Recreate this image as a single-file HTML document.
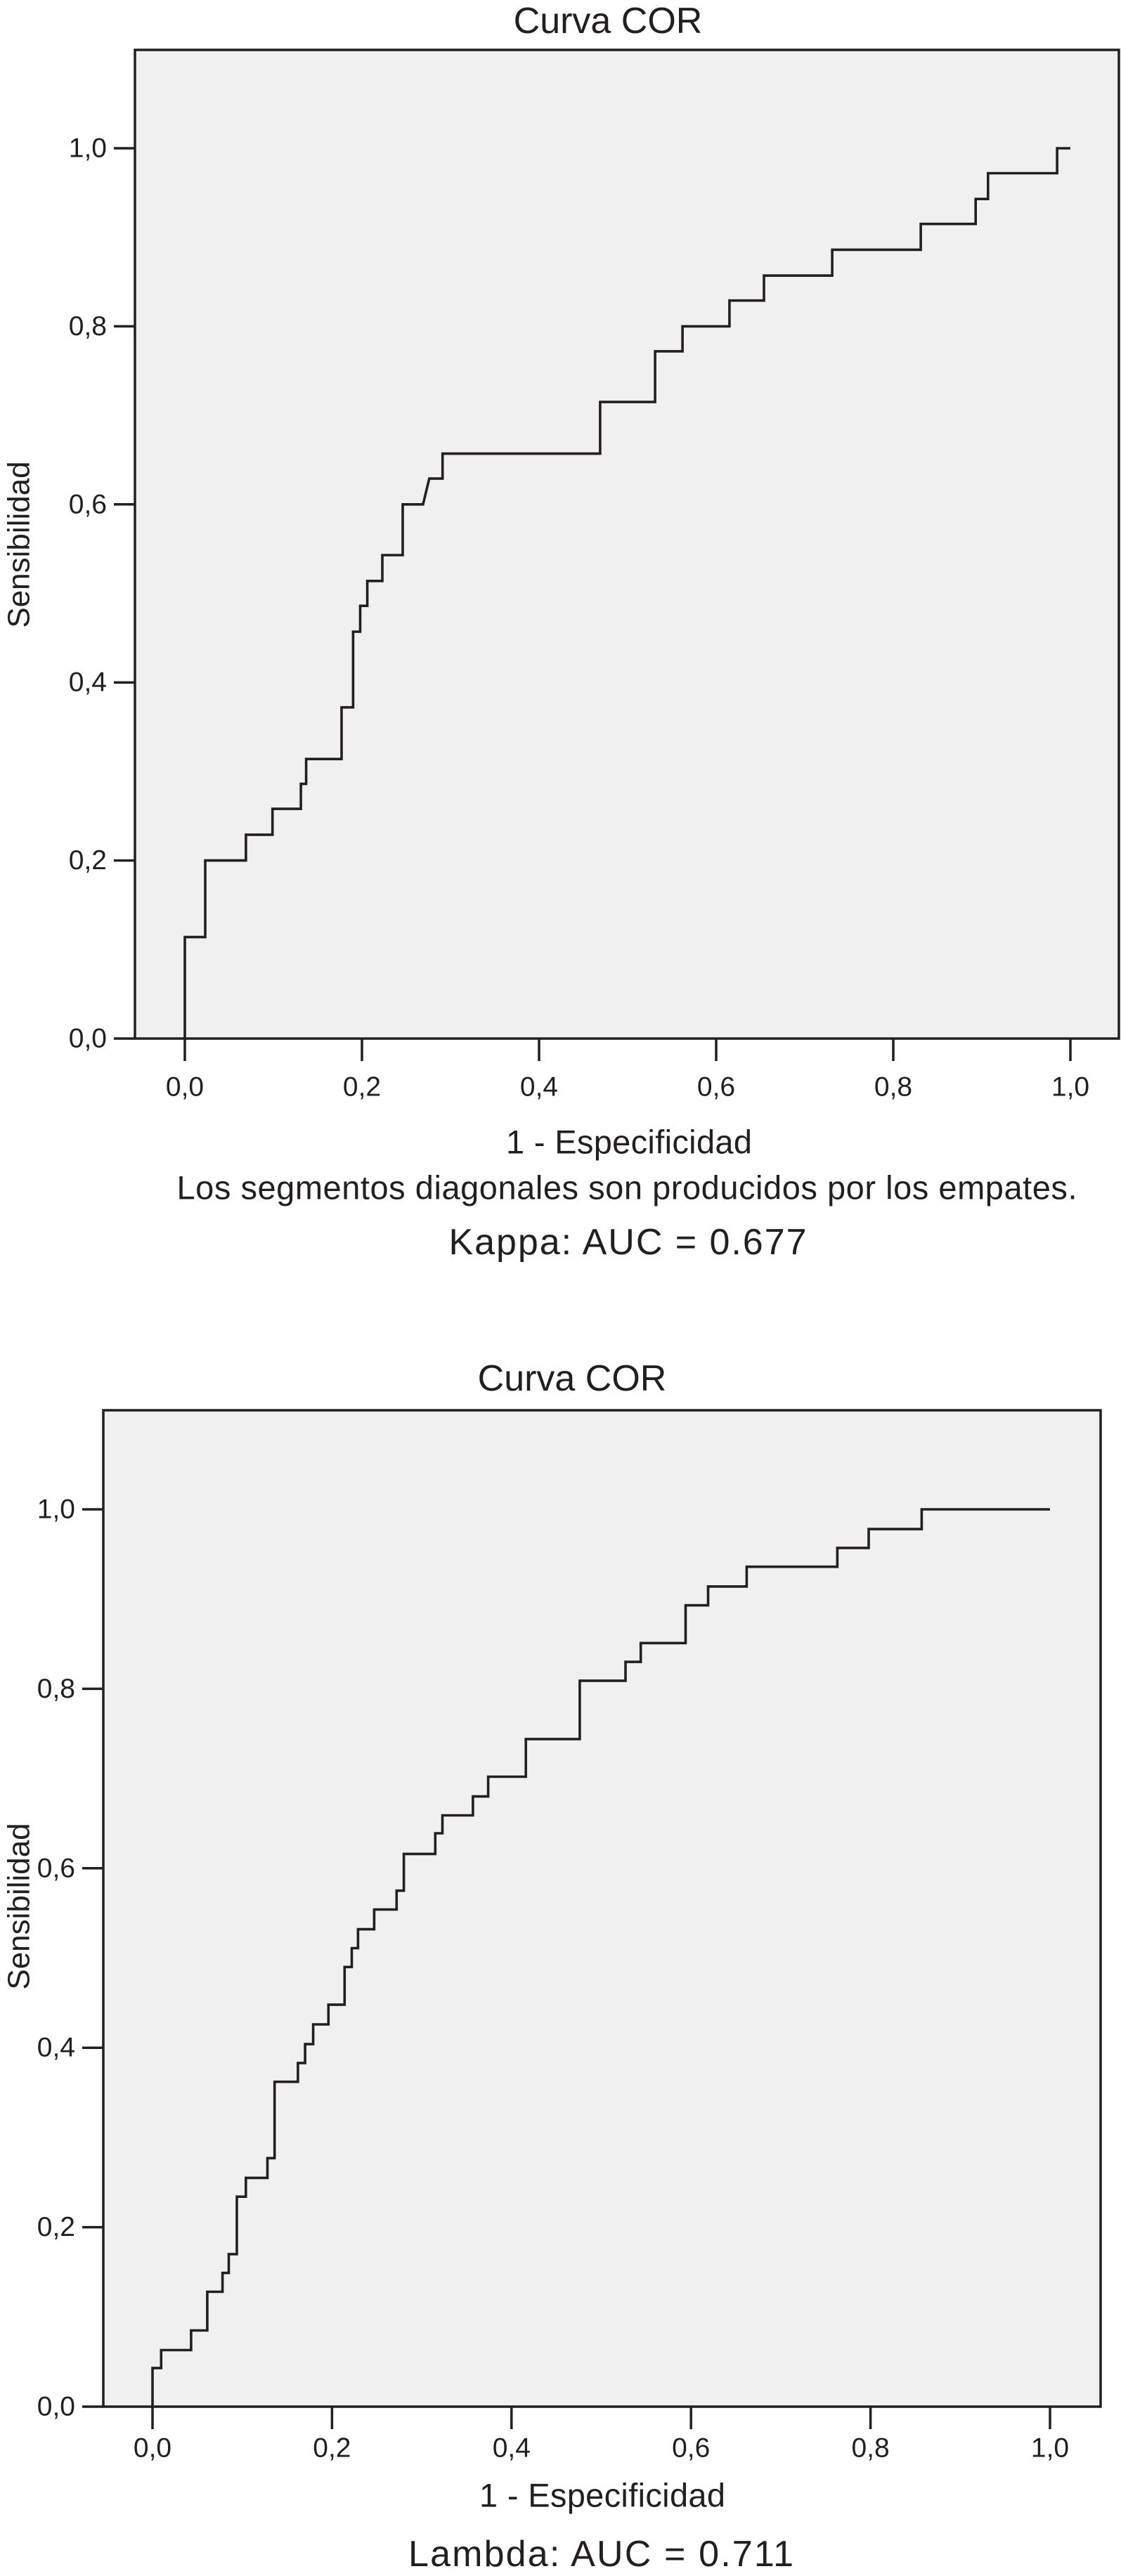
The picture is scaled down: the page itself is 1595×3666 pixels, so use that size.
<!DOCTYPE html>
<html><head><meta charset="utf-8"><style>
html,body{margin:0;padding:0;background:#fff;}
svg{display:block;}
text{font-family:"Liberation Sans",Arial,sans-serif;fill:#231f20;}
</style></head><body>
<svg id="svg" width="1595" height="3666" viewBox="0 0 1595 3666" xmlns="http://www.w3.org/2000/svg"></svg>
<script>
// Chart 1 (Kappa) data
const fpr1 = [0,0,0.023,0.023,0.069,0.069,0.099,0.099,0.131,0.131,0.137,0.137,0.177,0.177,0.19,0.19,0.198,0.198,0.206,0.206,0.223,0.223,0.246,0.246,0.269,0.276,0.291,0.291,0.469,0.469,0.531,0.531,0.562,0.562,0.615,0.615,0.654,0.654,0.731,0.731,0.831,0.831,0.893,0.893,0.907,0.907,0.985,0.985,1.0];
const tpr1 = [0,0.114,0.114,0.2,0.2,0.229,0.229,0.258,0.258,0.286,0.286,0.314,0.314,0.372,0.372,0.457,0.457,0.486,0.486,0.514,0.514,0.543,0.543,0.6,0.6,0.629,0.629,0.657,0.657,0.715,0.715,0.772,0.772,0.8,0.8,0.829,0.829,0.857,0.857,0.886,0.886,0.915,0.915,0.943,0.943,0.972,0.972,1.0,1.0];
// Chart 2 (Lambda) data
const fpr2 = [0,0,0.0096,0.0096,0.043,0.043,0.061,0.061,0.078,0.078,0.085,0.085,0.094,0.094,0.104,0.104,0.128,0.128,0.136,0.136,0.162,0.162,0.170,0.170,0.179,0.179,0.196,0.196,0.214,0.214,0.222,0.222,0.229,0.229,0.247,0.247,0.272,0.272,0.280,0.280,0.315,0.315,0.323,0.323,0.357,0.357,0.374,0.374,0.416,0.416,0.476,0.476,0.527,0.527,0.544,0.544,0.594,0.594,0.619,0.619,0.662,0.662,0.763,0.763,0.798,0.798,0.857,0.857,1.0];
const tpr2 = [0,0.043,0.043,0.063,0.063,0.085,0.085,0.128,0.128,0.149,0.149,0.170,0.170,0.234,0.234,0.255,0.255,0.277,0.277,0.362,0.362,0.383,0.383,0.404,0.404,0.426,0.426,0.448,0.448,0.490,0.490,0.511,0.511,0.532,0.532,0.554,0.554,0.575,0.575,0.616,0.616,0.639,0.639,0.659,0.659,0.680,0.680,0.702,0.702,0.744,0.744,0.809,0.809,0.830,0.830,0.851,0.851,0.893,0.893,0.914,0.914,0.936,0.936,0.957,0.957,0.978,0.978,1.0,1.0];
const xTicks = [0,0.2,0.4,0.6,0.8,1.0];
const yTicks = [0,0.2,0.4,0.6,0.8,1.0];
const xTickLabels = ["0,0","0,2","0,4","0,6","0,8","1,0"];
const yTickLabels = ["0,0","0,2","0,4","0,6","0,8","1,0"];

const NS="http://www.w3.org/2000/svg";
const svg=document.getElementById('svg');
function mk(tag,attrs,parent){const e=document.createElementNS(NS,tag);for(const k in attrs)e.setAttribute(k,attrs[k]);(parent||svg).appendChild(e);return e;}
function txt(s,x,y,size,parent,extra){const t=mk('text',Object.assign({x:x,y:y,'font-size':size,'text-anchor':'middle','dominant-baseline':'central'},extra||{}),parent);t.textContent=s;return t;}

function chart(cfg){
  const g=mk('g',{});
  
  
  const sx=v=>cfg.x0+(cfg.x1-cfg.x0)*v;
  const sy=v=>cfg.y0+(cfg.y1-cfg.y0)*v;
  const bg=mk('rect',{x:cfg.L,y:cfg.T,width:cfg.R-cfg.L,height:cfg.B-cfg.T,fill:'#f0f0f0',stroke:'#231f20','stroke-width':3.5},g);
  
  
  const t=txt('Curva COR',cfg.titleX,cfg.titleY,52,g);
  
  
  yTicks.forEach((v,i)=>{
    const y=sy(v);
    const l=mk('line',{x1:cfg.L-30,x2:cfg.L,y1:y,y2:y,stroke:'#231f20','stroke-width':3.5},g);
    
    
    const lab=txt(yTickLabels[i],cfg.L-40,y,39,g,{'text-anchor':'end'});
    
    
  });
  xTicks.forEach((v,i)=>{
    const x=sx(v);
    const l=mk('line',{x1:x,x2:x,y1:cfg.B,y2:cfg.B+32,stroke:'#231f20','stroke-width':3.5},g);
    
    
    const lab=txt(xTickLabels[i],x,cfg.xLabY,39,g);
    
    
  });
  let d='';
  cfg.fpr.forEach((v,i)=>{d+=(i?'L':'M')+sx(v).toFixed(1)+','+sy(cfg.tpr[i]).toFixed(1);});
  const p=mk('path',{d:d,fill:'none',stroke:'#231f20','stroke-width':3.6,'stroke-linejoin':'miter'},g);
  
  
  const yt=txt('Sensibilidad',0,0,44,g,{transform:'translate(27,'+cfg.yTitleY+') rotate(-90)'});
  
  
  const xt=txt('1 - Especificidad',cfg.xTitleX,cfg.xTitleY,47,g,{textLength:350});
  
  
  if(cfg.note){
    const n=txt(cfg.note,cfg.noteX,cfg.noteY,47,g,{textLength:1281});
    
    
  }
  const a=txt(cfg.auc,cfg.aucX,cfg.aucY,52,g,{textLength:cfg.aucW});
  
  
}

chart({name:'kappa-roc-chart',L:192,R:1592,T:71,B:1478,x0:263,x1:1523,y0:1478,y1:211,
  fpr:fpr1,tpr:tpr1,titleX:865,titleY:30,xLabY:1547,yTitleY:775,xTitleX:895,xTitleY:1625,
  note:'Los segmentos diagonales son producidos por los empates.',noteX:892,noteY:1690,
  auc:'Kappa: AUC = 0.677',aucX:893,aucY:1768,aucW:509});
chart({name:'lambda-roc-chart',L:147,R:1566,T:2007,B:3425,x0:217,x1:1494,y0:3425,y1:2148,
  fpr:fpr2,tpr:tpr2,titleX:814,titleY:1962,xLabY:3484,yTitleY:2713,xTitleX:857,xTitleY:3551,
  auc:'Lambda: AUC = 0.711',aucX:855,aucY:3635,aucW:548});
</script>
</body></html>
